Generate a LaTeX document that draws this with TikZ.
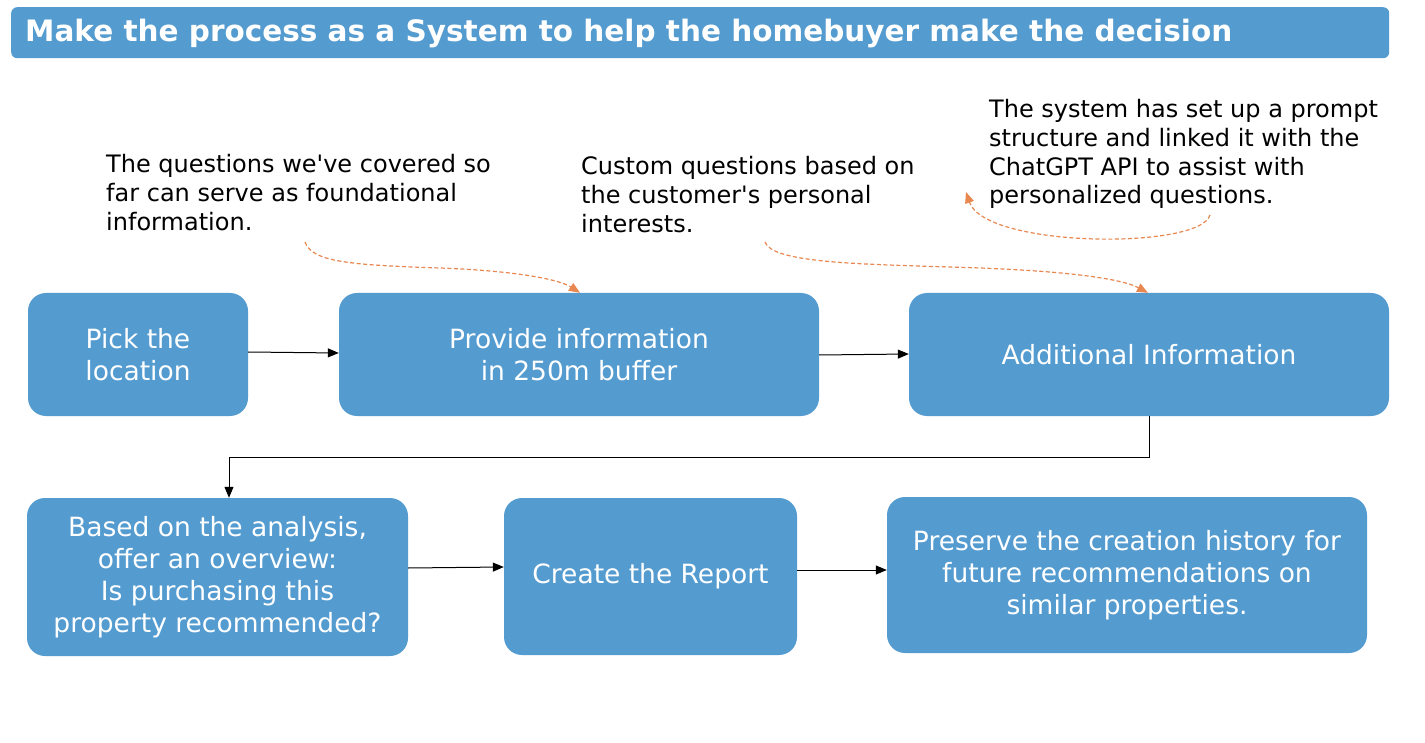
\documentclass[tikz,border=0pt]{standalone}
\usepackage{fontspec}
\setmainfont{DejaVu Sans}
\usetikzlibrary{arrows.meta}
\definecolor{boxblue}{RGB}{84,155,208}
\definecolor{dashorange}{RGB}{232,135,80}
\newcommand{\sq}{\textquotesingle}
\tikzset{
  procbox/.style={fill=boxblue, draw=none, rounded corners=18pt, text=white, align=center, font=\fontsize{26.5}{32}\selectfont, inner sep=0pt},
  note/.style={anchor=north west, align=left, inner sep=0pt, font=\fontsize{24}{28.8}\selectfont, text=black},
  flow/.style={draw=black, line width=1pt, -{Triangle[length=11pt,width=9pt]}},
  hint/.style={draw=dashorange, line width=1.2pt, dash pattern=on 4pt off 2.5pt, -{Triangle[length=11pt,width=9pt]}}
}
\begin{document}
\begin{tikzpicture}[x=1pt,y=-1pt]
\useasboundingbox (0,0) rectangle (1425,743);
\fill[white] (0,0) rectangle (1425,743);
% title
\node[fill=boxblue, rounded corners=6pt, minimum width=1378pt, minimum height=51pt, anchor=north west, inner sep=0pt] (title) at (11,7) {};
\node[anchor=west, text=white, font=\fontsize{29.5}{34}\bfseries\selectfont, inner sep=0pt] (titletext) at (25,33) {Make the process as a System to help the homebuyer make the decision};
% boxes
\node[procbox, minimum width=220pt, minimum height=123pt] (pick) at (138,354.5) {Pick the\\location};
\node[procbox, minimum width=480pt, minimum height=123pt] (prov) at (579,354.5) {Provide information\\in 250m buffer};
\node[procbox, minimum width=480pt, minimum height=123pt] (add) at (1149,354.5) {Additional Information};
\node[procbox, minimum width=381pt, minimum height=158pt] (based) at (217.5,577) {Based on the analysis,\\offer an overview:\\Is purchasing this\\property recommended?};
\node[procbox, minimum width=293pt, minimum height=157pt] (report) at (650.5,576.5) {Create the Report};
\node[procbox, minimum width=480pt, minimum height=156pt] (pres) at (1127,575) {Preserve the creation history for\\future recommendations on\\similar properties.};
% notes
\node[note] (n1) at (106,154) {The questions we\sq ve covered so\\far can serve as foundational\\information.};
\node[note] (n2) at (581,156) {Custom questions based on\\the customer\sq s personal\\interests.};
\node[note] (n3) at (989,99) {The system has set up a prompt\\structure and linked it with the\\ChatGPT API to assist with\\personalized questions.};
% flow arrows
\draw[flow] (pick.east |- 0,352) -- (prov.west |- 0,353);
\draw[flow] (prov.east |- 0,355) -- (add.west |- 0,354);
\draw[flow] (add.south) -- (1149,457) -- (229,457) -- (based.north -| 229,0);
\draw[flow] (based.east |- 0,568) -- (report.west |- 0,567);
\draw[flow] (report.east |- 0,570) -- (pres.west |- 0,570);
% dashed hints
\coordinate (h1) at (305,242);
\coordinate (h2) at (765,242);
\coordinate (h3) at (1210,215);
\coordinate (h3end) at (966,192);
\draw[hint] (h1) .. controls (312,262) and (350,265) .. (440,268) .. controls (520,271) and (560,280) .. (prov.north -| 580,0);
\draw[hint] (h2) .. controls (772,262) and (850,264) .. (950,267) .. controls (1060,270) and (1120,278) .. (add.north -| 1148,0);
\draw[hint] (h3) .. controls (1200,250) and (985,248) .. (h3end);
\end{tikzpicture}
\end{document}
